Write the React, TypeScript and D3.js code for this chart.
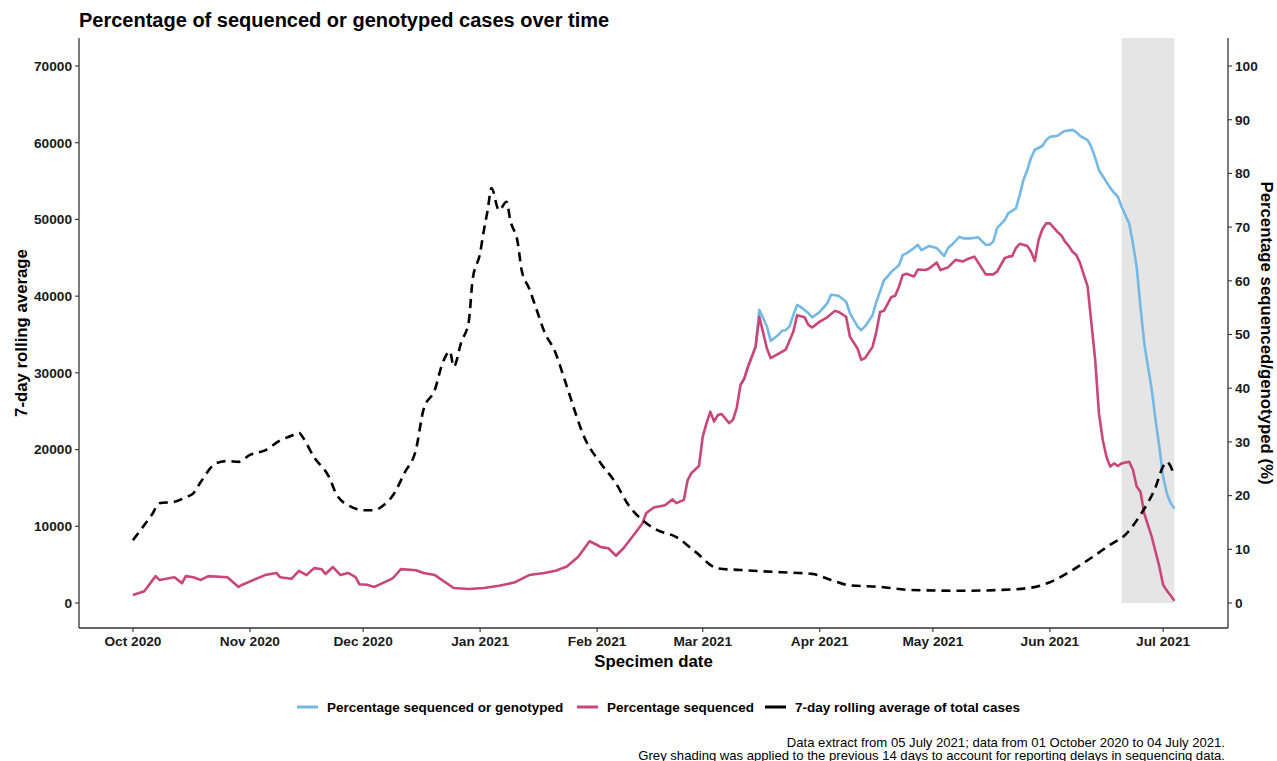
import React from "react";
import * as d3 from "d3";

// 7-day rolling average of total cases (left axis)
const rollingCases: [string, number][] = [
  ["2020-10-01", 8200], ["2020-10-03", 9500], ["2020-10-06", 11500], ["2020-10-08", 13000],
  ["2020-10-12", 13200], ["2020-10-15", 13800], ["2020-10-17", 14300], ["2020-10-19", 15800],
  ["2020-10-23", 18200], ["2020-10-26", 18500], ["2020-10-29", 18400], ["2020-11-01", 19300],
  ["2020-11-05", 19900], ["2020-11-09", 21200], ["2020-11-12", 21800], ["2020-11-14", 22200],
  ["2020-11-15", 21600], ["2020-11-18", 19000], ["2020-11-22", 16400], ["2020-11-24", 14100],
  ["2020-11-28", 12500], ["2020-12-01", 12100], ["2020-12-04", 12100], ["2020-12-06", 12600],
  ["2020-12-09", 14100], ["2020-12-12", 17000], ["2020-12-15", 20000], ["2020-12-17", 25200],
  ["2020-12-20", 27800], ["2020-12-22", 31200], ["2020-12-24", 32800], ["2020-12-25", 30800],
  ["2020-12-27", 34000], ["2020-12-29", 36700], ["2020-12-30", 42100], ["2021-01-01", 45600],
  ["2021-01-02", 48600], ["2021-01-03", 51200], ["2021-01-04", 54100], ["2021-01-06", 51200],
  ["2021-01-08", 52300], ["2021-01-09", 49900], ["2021-01-11", 46900], ["2021-01-12", 43400],
  ["2021-01-14", 41000], ["2021-01-16", 38200], ["2021-01-18", 35400], ["2021-01-21", 32600],
  ["2021-01-23", 29700], ["2021-01-24", 28200], ["2021-01-29", 21200], ["2021-02-02", 18200],
  ["2021-02-06", 15600], ["2021-02-09", 13000], ["2021-02-13", 10800], ["2021-02-17", 9500],
  ["2021-02-22", 8600], ["2021-02-27", 6700], ["2021-03-05", 4500], ["2021-03-11", 4300],
  ["2021-03-22", 4000], ["2021-03-30", 3800], ["2021-04-04", 3000], ["2021-04-09", 2300],
  ["2021-04-17", 2100], ["2021-04-25", 1700], ["2021-05-09", 1600], ["2021-05-19", 1700],
  ["2021-05-27", 2000], ["2021-06-01", 2700], ["2021-06-07", 4300], ["2021-06-12", 5900],
  ["2021-06-17", 7600], ["2021-06-21", 8900], ["2021-06-25", 11500], ["2021-06-29", 15100],
  ["2021-07-01", 17800], ["2021-07-02", 18400], ["2021-07-03", 17800], ["2021-07-04", 16500],
];

// Percentage sequenced (right axis, %)
const pctSequenced: [string, number][] = [
  ["2020-10-01", 1.5], ["2020-10-04", 2.2], ["2020-10-07", 5.0], ["2020-10-08", 4.3],
  ["2020-10-12", 4.8], ["2020-10-14", 3.7], ["2020-10-15", 5.0], ["2020-10-17", 4.8],
  ["2020-10-19", 4.3], ["2020-10-21", 5.0], ["2020-10-26", 4.8], ["2020-10-29", 3.0],
  ["2020-10-30", 3.4], ["2020-11-02", 4.3], ["2020-11-05", 5.2], ["2020-11-08", 5.6],
  ["2020-11-09", 4.8], ["2020-11-12", 4.5], ["2020-11-14", 6.0], ["2020-11-16", 5.2],
  ["2020-11-18", 6.5], ["2020-11-20", 6.3], ["2020-11-21", 5.4], ["2020-11-23", 6.7],
  ["2020-11-25", 5.2], ["2020-11-27", 5.6], ["2020-11-29", 4.8], ["2020-11-30", 3.5],
  ["2020-12-02", 3.4], ["2020-12-04", 3.0], ["2020-12-08", 4.3], ["2020-12-09", 4.7],
  ["2020-12-11", 6.3], ["2020-12-15", 6.1], ["2020-12-17", 5.6], ["2020-12-20", 5.2],
  ["2020-12-25", 2.8], ["2020-12-29", 2.6], ["2021-01-02", 2.8], ["2021-01-06", 3.2],
  ["2021-01-10", 3.8], ["2021-01-14", 5.2], ["2021-01-18", 5.6], ["2021-01-21", 6.0],
  ["2021-01-24", 6.8], ["2021-01-27", 8.6], ["2021-01-30", 11.5], ["2021-02-01", 10.8],
  ["2021-02-02", 10.4], ["2021-02-04", 10.2], ["2021-02-06", 8.8], ["2021-02-08", 10.2],
  ["2021-02-10", 12.0], ["2021-02-13", 14.8], ["2021-02-14", 16.7], ["2021-02-16", 17.8],
  ["2021-02-19", 18.2], ["2021-02-21", 19.3], ["2021-02-22", 18.6], ["2021-02-24", 19.2],
  ["2021-02-25", 22.9], ["2021-02-26", 24.2], ["2021-02-28", 25.5], ["2021-03-01", 31.0],
  ["2021-03-02", 33.5], ["2021-03-03", 35.6], ["2021-03-04", 33.8], ["2021-03-05", 35.0],
  ["2021-03-06", 35.2], ["2021-03-08", 33.5], ["2021-03-09", 34.1], ["2021-03-10", 36.3],
  ["2021-03-11", 40.6], ["2021-03-12", 41.8], ["2021-03-13", 44.0], ["2021-03-15", 47.7],
  ["2021-03-16", 53.3], ["2021-03-18", 47.4], ["2021-03-19", 45.6], ["2021-03-21", 46.4],
  ["2021-03-23", 47.2], ["2021-03-25", 50.5], ["2021-03-26", 53.6], ["2021-03-28", 53.2],
  ["2021-03-29", 51.8], ["2021-03-30", 51.3], ["2021-04-01", 52.4], ["2021-04-03", 53.2],
  ["2021-04-05", 54.4], ["2021-04-06", 54.2], ["2021-04-08", 53.3], ["2021-04-09", 49.6],
  ["2021-04-11", 47.4], ["2021-04-12", 45.3], ["2021-04-13", 45.6], ["2021-04-15", 47.7],
  ["2021-04-16", 50.5], ["2021-04-17", 54.2], ["2021-04-18", 54.4], ["2021-04-20", 57.0],
  ["2021-04-21", 57.2], ["2021-04-22", 58.9], ["2021-04-23", 61.1], ["2021-04-24", 61.3],
  ["2021-04-26", 60.8], ["2021-04-27", 62.1], ["2021-04-29", 62.0], ["2021-04-30", 62.3],
  ["2021-05-02", 63.4], ["2021-05-03", 62.0], ["2021-05-05", 62.5], ["2021-05-07", 63.9],
  ["2021-05-09", 63.6], ["2021-05-10", 64.0], ["2021-05-12", 64.5], ["2021-05-15", 61.2],
  ["2021-05-17", 61.2], ["2021-05-18", 61.7], ["2021-05-20", 64.2], ["2021-05-21", 64.5],
  ["2021-05-22", 64.6], ["2021-05-23", 66.1], ["2021-05-24", 66.9], ["2021-05-26", 66.5],
  ["2021-05-27", 65.4], ["2021-05-28", 63.7], ["2021-05-29", 67.6], ["2021-05-30", 69.6],
  ["2021-05-31", 70.7], ["2021-06-01", 70.7], ["2021-06-03", 69.1], ["2021-06-04", 68.5],
  ["2021-06-05", 67.3], ["2021-06-06", 66.5], ["2021-06-07", 65.4], ["2021-06-08", 64.8],
  ["2021-06-09", 63.3], ["2021-06-11", 58.9], ["2021-06-12", 52.1], ["2021-06-13", 45.3],
  ["2021-06-14", 35.3], ["2021-06-15", 30.4], ["2021-06-16", 27.2], ["2021-06-17", 25.4],
  ["2021-06-18", 26.0], ["2021-06-19", 25.5], ["2021-06-20", 26.0], ["2021-06-22", 26.3],
  ["2021-06-23", 24.8], ["2021-06-24", 21.7], ["2021-06-25", 20.7], ["2021-06-26", 16.7],
  ["2021-06-28", 12.3], ["2021-06-30", 6.8], ["2021-07-01", 3.4], ["2021-07-02", 2.3],
  ["2021-07-03", 1.4], ["2021-07-04", 0.4],
];

// Percentage sequenced or genotyped (right axis, %)
const pctSeqOrGeno: [string, number][] = [
  ["2021-03-11", 40.6], ["2021-03-12", 41.8], ["2021-03-13", 44.0], ["2021-03-15", 47.7],
  ["2021-03-16", 54.6], ["2021-03-18", 51.5], ["2021-03-19", 48.8], ["2021-03-21", 49.9],
  ["2021-03-22", 50.7], ["2021-03-23", 50.8], ["2021-03-24", 51.5], ["2021-03-25", 53.6],
  ["2021-03-26", 55.5], ["2021-03-27", 55.1], ["2021-03-29", 54.0], ["2021-03-30", 53.2],
  ["2021-04-01", 54.2], ["2021-04-03", 55.8], ["2021-04-04", 57.4], ["2021-04-06", 57.2],
  ["2021-04-08", 56.1], ["2021-04-09", 54.0], ["2021-04-11", 51.5], ["2021-04-12", 50.8],
  ["2021-04-13", 51.5], ["2021-04-15", 53.6], ["2021-04-16", 56.1], ["2021-04-17", 58.0],
  ["2021-04-18", 60.1], ["2021-04-19", 60.8], ["2021-04-20", 61.7], ["2021-04-22", 62.9],
  ["2021-04-23", 64.8], ["2021-04-24", 65.1], ["2021-04-26", 66.1], ["2021-04-27", 66.7],
  ["2021-04-28", 65.7], ["2021-04-30", 66.5], ["2021-05-02", 66.1], ["2021-05-04", 64.6],
  ["2021-05-05", 66.1], ["2021-05-06", 66.7], ["2021-05-08", 68.2], ["2021-05-09", 67.9],
  ["2021-05-11", 67.9], ["2021-05-13", 68.1], ["2021-05-15", 66.7], ["2021-05-16", 66.7],
  ["2021-05-17", 67.3], ["2021-05-18", 69.8], ["2021-05-20", 71.3], ["2021-05-21", 72.6],
  ["2021-05-23", 73.5], ["2021-05-24", 76.0], ["2021-05-25", 78.8], ["2021-05-26", 80.6],
  ["2021-05-27", 82.9], ["2021-05-28", 84.4], ["2021-05-30", 85.1], ["2021-05-31", 86.2],
  ["2021-06-01", 86.8], ["2021-06-03", 87.0], ["2021-06-04", 87.5], ["2021-06-05", 87.9],
  ["2021-06-07", 88.1], ["2021-06-08", 87.7], ["2021-06-09", 87.0], ["2021-06-11", 86.2],
  ["2021-06-12", 84.9], ["2021-06-13", 82.9], ["2021-06-14", 80.6], ["2021-06-16", 78.4],
  ["2021-06-17", 77.3], ["2021-06-18", 76.4], ["2021-06-19", 75.7], ["2021-06-20", 73.8],
  ["2021-06-22", 70.7], ["2021-06-23", 67.0], ["2021-06-24", 62.6], ["2021-06-25", 55.2],
  ["2021-06-26", 48.4], ["2021-06-27", 44.0], ["2021-06-28", 39.7], ["2021-06-29", 34.1],
  ["2021-06-30", 29.1], ["2021-07-01", 23.5], ["2021-07-02", 20.4], ["2021-07-03", 18.6],
  ["2021-07-04", 17.6],
];

const monthTicks = [
  "2020-10-01", "2020-11-01", "2020-12-01", "2021-01-01", "2021-02-01",
  "2021-03-01", "2021-04-01", "2021-05-01", "2021-06-01", "2021-07-01",
];
const caseTicks = [0, 10000, 20000, 30000, 40000, 50000, 60000, 70000];
const pctTicks = [0, 10, 20, 30, 40, 50, 60, 70, 80, 90, 100];

// shaded window for reporting delay
const delayWindow: [string, string] = ["2021-06-20", "2021-07-04"];

const legendItems = [
  { label: "Percentage sequenced or genotyped", color: "#74B8E6" },
  { label: "Percentage sequenced", color: "#C8467A" },
  { label: "7-day rolling average of total cases", color: "#000000" },
];

const captionLines = [
  "Data extract from 05 July 2021; data from 01 October 2020 to 04 July 2021.",
  "Grey shading was applied to the previous 14 days to account for reporting delays in sequencing data.",
];

// cases per percentage point on the secondary axis
const PCT_FACTOR = 700;

const W = 1277;
const H = 761;
const panel = { left: 79, right: 1228, top: 38, bottom: 628 };
const FONT = "'Liberation Sans', Arial, Helvetica, sans-serif";

const parse = (s: string) => new Date(s + "T00:00:00Z");
const DAY = 86400000;

export default function App() {
  const x = d3
    .scaleUtc()
    .domain([
      new Date(parse("2020-10-01").getTime() - 14.3 * DAY),
      new Date(parse("2021-07-01").getTime() + 17.2 * DAY),
    ])
    .range([panel.left, panel.right]);

  const y = d3.scaleLinear().domain([-3259, 73650]).range([panel.bottom, panel.top]);

  const caseLine = d3
    .line<[string, number]>()
    .x((d) => x(parse(d[0])))
    .y((d) => y(d[1]))
    .curve(d3.curveMonotoneX);

  const pctLine = d3
    .line<[string, number]>()
    .x((d) => x(parse(d[0])))
    .y((d) => y(d[1] * PCT_FACTOR))
    .curve(d3.curveLinear);

  const fmt = d3.utcFormat("%b %Y");
  const axisColor = "#333333";
  const tickFont = 13.7;
  const legendX = [297, 577, 765];
  const legendY = 707;

  return (
    <svg
      width={W}
      height={H}
      style={{ position: "absolute", left: 0, top: 0, background: "#ffffff" }}
      fontFamily={FONT}
    >
      <rect x={0} y={0} width={W} height={H} fill="#ffffff" />
      <text x={panel.left} y={27} fontSize={20} fontWeight="bold" fill="#000">
        Percentage of sequenced or genotyped cases over time
      </text>

      {/* grey shading for the reporting delay window */}
      <rect
        x={x(parse(delayWindow[0]))}
        y={panel.top}
        width={x(parse(delayWindow[1])) - x(parse(delayWindow[0]))}
        height={y(0) - panel.top}
        fill="#E5E5E5"
      />

      <path d={pctLine(pctSeqOrGeno) || ""} fill="none" stroke="#74B8E6" strokeWidth={2.6} strokeLinejoin="round" />
      <path d={pctLine(pctSequenced) || ""} fill="none" stroke="#C8467A" strokeWidth={2.6} strokeLinejoin="round" />
      <path
        d={caseLine(rollingCases) || ""}
        fill="none"
        stroke="#000"
        strokeWidth={2.6}
        strokeDasharray="9,6"
      />

      {/* axes */}
      <line x1={panel.left} x2={panel.left} y1={panel.top} y2={panel.bottom} stroke={axisColor} strokeWidth={1.3} />
      <line x1={panel.right} x2={panel.right} y1={panel.top} y2={panel.bottom} stroke={axisColor} strokeWidth={1.3} />
      <line x1={panel.left} x2={panel.right} y1={panel.bottom} y2={panel.bottom} stroke={axisColor} strokeWidth={1.3} />

      {caseTicks.map((t) => (
        <g key={"l" + t}>
          <line x1={panel.left - 4} x2={panel.left} y1={y(t)} y2={y(t)} stroke={axisColor} strokeWidth={1.1} />
          <text x={panel.left - 7} y={y(t) + 4.8} textAnchor="end" fontSize={tickFont} fontWeight="bold" fill="#1a1a1a">
            {t}
          </text>
        </g>
      ))}
      {pctTicks.map((t) => (
        <g key={"r" + t}>
          <line x1={panel.right} x2={panel.right + 4} y1={y(t * PCT_FACTOR)} y2={y(t * PCT_FACTOR)} stroke={axisColor} strokeWidth={1.1} />
          <text x={panel.right + 7} y={y(t * PCT_FACTOR) + 4.8} textAnchor="start" fontSize={tickFont} fontWeight="bold" fill="#1a1a1a">
            {t}
          </text>
        </g>
      ))}
      {monthTicks.map((m) => (
        <g key={m}>
          <line x1={x(parse(m))} x2={x(parse(m))} y1={panel.bottom} y2={panel.bottom + 4} stroke={axisColor} strokeWidth={1.1} />
          <text x={x(parse(m))} y={panel.bottom + 18} textAnchor="middle" fontSize={tickFont} fontWeight="bold" fill="#1a1a1a">
            {fmt(parse(m))}
          </text>
        </g>
      ))}

      {/* axis titles */}
      <text
        x={(panel.left + panel.right) / 2}
        y={667}
        textAnchor="middle"
        fontSize={16.8}
        fontWeight="bold"
        fill="#000"
      >
        Specimen date
      </text>
      <text
        transform={`translate(27, ${(panel.top + panel.bottom) / 2}) rotate(-90)`}
        textAnchor="middle"
        fontSize={16.8}
        fontWeight="bold"
        fill="#000"
      >
        7-day rolling average
      </text>
      <text
        transform={`translate(1261, ${(panel.top + panel.bottom) / 2}) rotate(90)`}
        textAnchor="middle"
        fontSize={16.8}
        fontWeight="bold"
        fill="#000"
      >
        Percentage sequenced/genotyped (%)
      </text>

      {/* legend */}
      {legendItems.map((item, i) => (
        <g key={item.label}>
          <line
            x1={legendX[i]}
            x2={legendX[i] + 21}
            y1={legendY}
            y2={legendY}
            stroke={item.color}
            strokeWidth={3}
          />
          <text x={legendX[i] + 30} y={legendY + 4.8} fontSize={13.5} fontWeight="bold" fill="#000">
            {item.label}
          </text>
        </g>
      ))}

      {/* caption */}
      {captionLines.map((line, i) => (
        <text key={i} x={1225} y={747 + i * 12.5} textAnchor="end" fontSize={13.1} fill="#000">
          {line}
        </text>
      ))}
    </svg>
  );
}
